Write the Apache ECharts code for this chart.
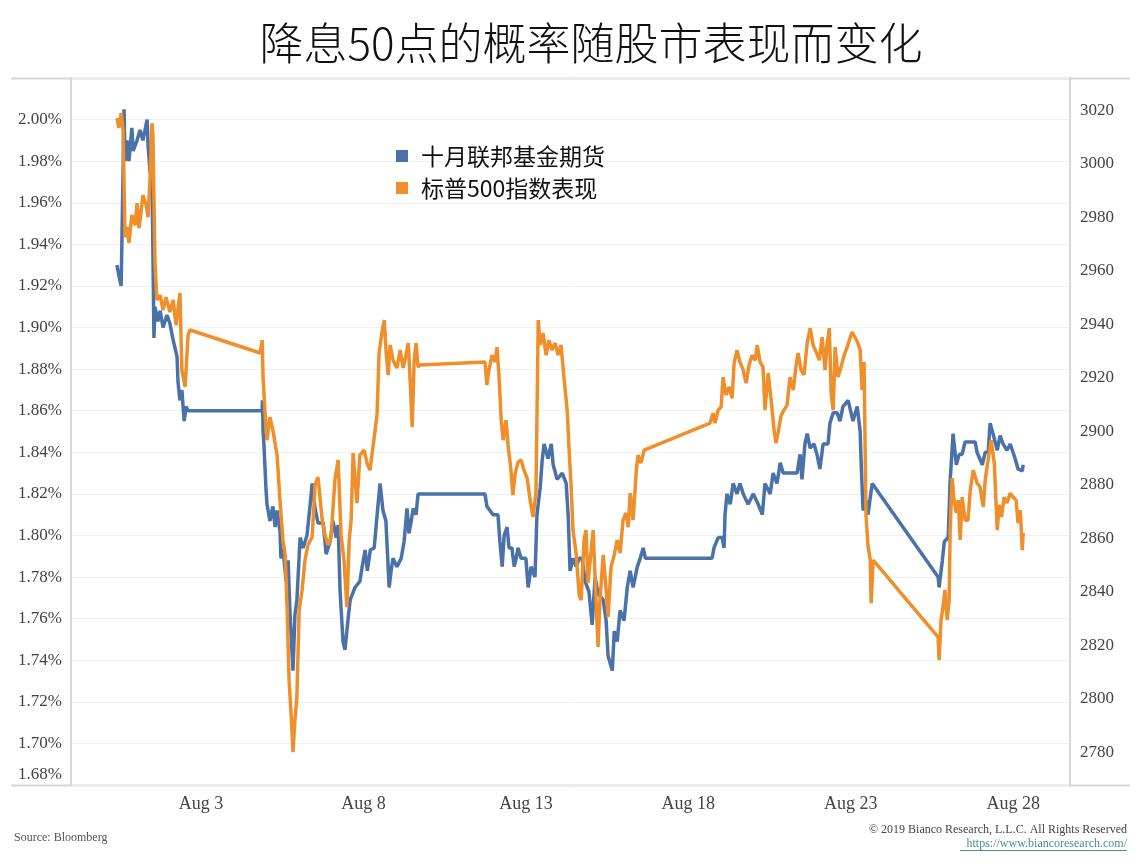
<!DOCTYPE html>
<html>
<head>
<meta charset="utf-8">
<script src="https://cdn.jsdelivr.net/npm/echarts@6/dist/echarts.min.js"></script>
<style>
html,body{margin:0;padding:0;background:#fff;}
#chart{width:1141px;height:864px;}
</style>
</head>
<body>
<div id="chart"></div>
<script>
// ---- DATA (x = day number, Aug n 00:00 = n ; Jul 31 = 0) ----
const titleText = '降息50点的概率随股市表现而变化';
const seriesNames = ['十月联邦基金期货', '标普500指数表现'];
const xTickDays = [3, 8, 13, 18, 23, 28];
const leftTickValues = [1.6848, 1.70, 1.72, 1.74, 1.76, 1.78, 1.80, 1.82, 1.84, 1.86, 1.88, 1.90, 1.92, 1.94, 1.96, 1.98, 2.00];
const rightTickValues = [2780, 2800, 2820, 2840, 2860, 2880, 2900, 2920, 2940, 2960, 2980, 3000, 3020];

// October fed funds futures implied (%)
const fedFunds = [
  [0.41,1.930],[0.47,1.925],[0.54,1.920],[0.57,1.948],[0.63,2.005],[0.66,1.980],[0.72,1.990],[0.78,1.980],
  [0.87,1.996],[0.91,1.985],[1.03,1.990],[1.12,1.995],[1.21,1.990],[1.27,1.990],[1.34,2.000],[1.37,1.987],
  [1.43,1.975],[1.49,1.971],[1.55,1.895],[1.58,1.910],[1.67,1.903],[1.74,1.908],[1.83,1.900],[1.95,1.906],
  [2.04,1.902],[2.14,1.894],[2.26,1.886],[2.29,1.874],[2.35,1.865],[2.41,1.870],[2.48,1.855],[2.54,1.862],
  [2.60,1.860],[4.88,1.860],[4.89,1.865],[4.91,1.850],[4.94,1.842],[5.00,1.822],[5.03,1.815],[5.12,1.807],
  [5.21,1.814],[5.28,1.804],[5.34,1.812],[5.43,1.802],[5.46,1.789],[5.52,1.794],[5.62,1.778],[5.68,1.788],
  [5.74,1.762],[5.83,1.735],[5.89,1.762],[5.95,1.769],[6.05,1.799],[6.14,1.794],[6.26,1.800],[6.36,1.815],
  [6.42,1.825],[6.51,1.813],[6.60,1.806],[6.76,1.806],[6.85,1.791],[6.97,1.797],[7.06,1.807],[7.16,1.799],
  [7.22,1.805],[7.28,1.773],[7.37,1.749],[7.43,1.745],[7.52,1.759],[7.59,1.769],[7.74,1.775],[7.89,1.778],
  [7.96,1.785],[8.05,1.793],[8.12,1.783],[8.21,1.793],[8.33,1.794],[8.42,1.810],[8.51,1.825],[8.60,1.812],
  [8.69,1.807],[8.79,1.775],[8.85,1.783],[8.91,1.789],[9.03,1.785],[9.16,1.789],[9.25,1.797],[9.34,1.813],
  [9.40,1.801],[9.47,1.807],[9.53,1.813],[9.62,1.810],[9.68,1.820],[11.74,1.820],[11.80,1.814],[11.99,1.810],
  [12.14,1.810],[12.20,1.797],[12.27,1.785],[12.33,1.800],[12.42,1.804],[12.48,1.794],[12.57,1.794],[12.64,1.785],
  [12.70,1.789],[12.76,1.794],[12.85,1.789],[13.00,1.789],[13.07,1.775],[13.16,1.785],[13.28,1.780],[13.34,1.810],
  [13.44,1.823],[13.50,1.836],[13.56,1.844],[13.68,1.837],[13.78,1.844],[13.84,1.834],[13.96,1.827],[14.12,1.830],
  [14.24,1.825],[14.30,1.810],[14.36,1.783],[14.45,1.789],[14.55,1.785],[14.64,1.789],[14.73,1.789],[14.82,1.778],
  [14.94,1.773],[15.04,1.757],[15.13,1.780],[15.22,1.772],[15.38,1.769],[15.47,1.759],[15.53,1.742],[15.66,1.735],
  [15.72,1.754],[15.81,1.749],[15.90,1.764],[16.02,1.759],[16.12,1.775],[16.21,1.783],[16.30,1.775],[16.43,1.785],
  [16.52,1.789],[16.61,1.794],[16.68,1.789],[18.73,1.789],[18.79,1.794],[18.92,1.799],[19.04,1.799],[19.10,1.794],
  [19.13,1.810],[19.19,1.820],[19.29,1.815],[19.38,1.825],[19.50,1.820],[19.59,1.825],[19.69,1.820],[19.84,1.815],
  [20.00,1.820],[20.15,1.815],[20.28,1.810],[20.36,1.825],[20.52,1.820],[20.61,1.830],[20.73,1.825],[20.83,1.835],
  [20.92,1.830],[21.13,1.830],[21.35,1.830],[21.44,1.839],[21.50,1.827],[21.59,1.844],[21.66,1.849],[21.75,1.842],
  [21.87,1.844],[21.96,1.839],[22.05,1.832],[22.15,1.844],[22.30,1.844],[22.36,1.854],[22.46,1.859],[22.58,1.859],
  [22.67,1.855],[22.76,1.862],[22.92,1.865],[23.07,1.855],[23.20,1.862],[23.29,1.850],[23.32,1.835],[23.38,1.812],
  [23.47,1.817],[23.53,1.810],[23.66,1.825],[25.69,1.780],[25.72,1.775],[25.82,1.788],[25.88,1.797],[26.00,1.799],
  [26.06,1.826],[26.15,1.849],[26.25,1.834],[26.34,1.839],[26.43,1.839],[26.52,1.845],[26.83,1.845],[26.89,1.840],
  [27.05,1.834],[27.14,1.840],[27.23,1.840],[27.29,1.854],[27.38,1.849],[27.51,1.841],[27.60,1.848],[27.69,1.844],
  [27.81,1.841],[27.91,1.844],[28.06,1.837],[28.15,1.832],[28.28,1.831],[28.31,1.834]
];

// S&P 500 index level
const spx = [
  [0.41,3017.0],[0.47,3013.3],[0.54,3018.9],[0.60,3012.5],[0.66,2972.5],[0.72,2976.3],[0.78,2970.3],[0.87,2980.8],
  [0.97,2977.0],[1.03,2985.2],[1.09,2975.9],[1.15,2981.5],[1.21,2988.2],[1.31,2984.5],[1.37,2980.0],[1.43,2995.0],
  [1.49,3015.1],[1.52,3009.9],[1.58,2963.9],[1.64,2949.0],[1.74,2950.8],[1.83,2945.2],[1.92,2950.1],[2.04,2944.5],
  [2.14,2949.0],[2.23,2939.6],[2.35,2951.6],[2.41,2922.8],[2.51,2916.5],[2.60,2935.9],[2.66,2937.8],[4.82,2929.2],
  [4.88,2934.0],[4.91,2919.8],[4.97,2906.7],[5.03,2896.6],[5.12,2905.2],[5.21,2900.4],[5.34,2891.0],[5.43,2874.2],
  [5.52,2859.3],[5.59,2853.7],[5.65,2833.1],[5.71,2806.9],[5.77,2794.6],[5.83,2780.0],[5.89,2792.0],[5.95,2800.6],
  [6.02,2833.1],[6.11,2840.6],[6.20,2851.8],[6.29,2857.4],[6.42,2860.4],[6.51,2879.8],[6.60,2882.8],[6.73,2866.7],
  [6.82,2861.1],[6.91,2857.4],[7.00,2860.0],[7.12,2881.7],[7.22,2889.2],[7.31,2861.1],[7.40,2851.8],[7.49,2834.2],
  [7.56,2859.3],[7.62,2866.7],[7.68,2891.8],[7.80,2873.1],[7.89,2891.0],[8.02,2892.9],[8.11,2888.0],[8.20,2885.4],
  [8.30,2894.8],[8.36,2900.4],[8.42,2906.7],[8.48,2929.2],[8.58,2937.8],[8.64,2941.5],[8.70,2929.2],[8.76,2920.9],
  [8.82,2932.2],[8.91,2926.5],[9.03,2923.6],[9.13,2930.3],[9.22,2923.6],[9.31,2928.4],[9.38,2932.9],[9.44,2918.0],
  [9.50,2901.5],[9.56,2926.5],[9.62,2932.9],[9.68,2923.9],[9.74,2924.7],[11.74,2925.8],[11.80,2917.2],[11.86,2922.8],
  [11.96,2928.4],[12.05,2925.8],[12.11,2931.4],[12.17,2921.0],[12.24,2904.1],[12.30,2896.6],[12.39,2904.1],[12.45,2894.8],
  [12.54,2885.4],[12.60,2876.1],[12.67,2884.3],[12.76,2888.4],[12.85,2889.2],[12.94,2885.4],[13.04,2882.4],[13.13,2874.2],
  [13.22,2867.9],[13.31,2877.2],[13.38,2941.5],[13.44,2932.2],[13.53,2936.6],[13.62,2928.4],[13.71,2934.0],[13.80,2930.3],
  [13.90,2932.9],[13.99,2928.4],[14.08,2932.2],[14.18,2919.1],[14.27,2907.9],[14.33,2892.9],[14.39,2879.8],[14.45,2863.0],
  [14.55,2853.7],[14.64,2838.7],[14.70,2836.8],[14.79,2859.3],[14.85,2863.0],[14.91,2843.2],[15.01,2855.5],[15.07,2863.0],
  [15.16,2836.8],[15.22,2819.3],[15.28,2836.8],[15.38,2853.7],[15.47,2840.6],[15.53,2830.5],[15.62,2849.2],[15.72,2853.7],
  [15.81,2859.3],[15.90,2854.4],[15.99,2866.7],[16.08,2869.4],[16.15,2864.1],[16.21,2876.8],[16.30,2866.7],[16.40,2885.4],
  [16.45,2891.0],[16.54,2888.0],[16.64,2892.9],[18.67,2903.0],[18.76,2906.7],[18.82,2903.0],[18.92,2907.9],[19.01,2909.0],
  [19.07,2920.2],[19.16,2913.5],[19.26,2916.5],[19.35,2912.3],[19.41,2925.4],[19.50,2930.3],[19.59,2925.8],[19.69,2922.8],
  [19.78,2917.9],[19.87,2924.7],[19.96,2928.4],[20.06,2926.5],[20.12,2932.2],[20.21,2925.8],[20.30,2923.9],[20.36,2907.9],
  [20.46,2921.7],[20.55,2911.6],[20.64,2900.4],[20.70,2895.5],[20.76,2899.3],[20.86,2906.0],[20.95,2907.9],[21.04,2909.7],
  [21.13,2920.2],[21.23,2915.3],[21.32,2924.7],[21.38,2929.2],[21.47,2922.8],[21.56,2921.0],[21.66,2932.9],[21.75,2938.5],
  [21.84,2932.2],[21.94,2929.5],[22.03,2926.5],[22.12,2935.1],[22.21,2922.8],[22.27,2932.2],[22.34,2938.5],[22.40,2913.5],
  [22.46,2907.9],[22.52,2931.4],[22.61,2920.2],[22.70,2923.9],[22.80,2928.4],[22.89,2931.4],[22.98,2934.8],[23.04,2937.0],
  [23.13,2935.1],[23.22,2932.9],[23.29,2930.3],[23.35,2915.3],[23.41,2925.8],[23.44,2896.6],[23.47,2868.6],[23.53,2857.4],
  [23.60,2851.8],[23.63,2835.7],[23.69,2851.8],[25.69,2823.0],[25.72,2814.4],[25.78,2829.4],[25.84,2834.2],[25.90,2840.6],
  [25.97,2829.4],[26.03,2836.8],[26.06,2863.0],[26.12,2882.4],[26.18,2874.2],[26.25,2869.4],[26.31,2874.2],[26.37,2859.3],
  [26.43,2875.3],[26.52,2866.7],[26.61,2866.7],[26.68,2878.0],[26.77,2885.4],[26.89,2880.6],[26.98,2879.1],[27.08,2871.6],
  [27.14,2881.7],[27.23,2889.2],[27.32,2896.6],[27.42,2888.0],[27.51,2863.0],[27.57,2872.4],[27.64,2867.9],[27.72,2875.3],
  [27.81,2873.1],[27.91,2876.8],[28.00,2875.3],[28.09,2874.2],[28.15,2865.6],[28.22,2870.5],[28.28,2855.5],[28.31,2861.9]
];

// ---- CHART ----
const BLUE = '#4a72a8';
const ORANGE = '#ef8f2c';
const serif = '"Liberation Serif", "DejaVu Serif", serif';
const cjk = '"Noto Sans CJK SC", "Noto Sans", sans-serif';

const chart = echarts.init(document.getElementById('chart'), null, {renderer: 'canvas'});
chart.setOption({
  animation: false,
  backgroundColor: '#ffffff',
  grid: {left: 71, right: 71, top: 78, bottom: 79, containLabel: false},
  legend: {
    data: seriesNames,
    orient: 'vertical',
    left: 391,
    top: 139,
    icon: 'rect',
    itemWidth: 12,
    itemHeight: 12,
    itemGap: 8,
    textStyle: {fontFamily: cjk, fontSize: 23, color: '#111', padding: [0, 0, 0, 8], lineHeight: 24}
  },
  xAxis: {
    type: 'value',
    min: -1.004,
    max: 29.75,
    axisLine: {show: false},
    axisTick: {show: false},
    splitLine: {show: false},
    axisLabel: {
      customValues: xTickDays,
      formatter: v => 'Aug ' + Math.round(v),
      fontFamily: serif,
      fontSize: 18,
      color: '#444',
      margin: 10
    }
  },
  yAxis: [
    {
      type: 'value',
      position: 'left',
      min: 1.68,
      max: 2.02,
      interval: 0.02,
      axisLine: {show: true, onZero: false, lineStyle: {color: '#d6d6d6', width: 2}},
      axisTick: {show: false},
      splitLine: {show: true, lineStyle: {color: '#f0f0f0', width: 1}},
      axisLabel: {
        customValues: leftTickValues,
        formatter: v => v.toFixed(2) + '%',
        fontFamily: serif,
        fontSize: 17,
        color: '#444',
        margin: 9
      }
    },
    {
      type: 'value',
      position: 'right',
      min: 2767.7,
      max: 3032,
      axisLine: {show: true, onZero: false, lineStyle: {color: '#d6d6d6', width: 2}},
      axisTick: {show: false},
      splitLine: {show: false},
      axisLabel: {
        customValues: rightTickValues,
        formatter: v => String(v),
        fontFamily: serif,
        fontSize: 17,
        color: '#444',
        margin: 10
      }
    }
  ],
  series: [
    {
      name: seriesNames[0],
      type: 'line',
      yAxisIndex: 0,
      data: fedFunds,
      showSymbol: false,
      symbol: 'none',
      lineStyle: {color: BLUE, width: 3.5},
      itemStyle: {color: BLUE}
    },
    {
      name: seriesNames[1],
      type: 'line',
      yAxisIndex: 1,
      data: spx,
      showSymbol: false,
      symbol: 'none',
      lineStyle: {color: ORANGE, width: 3.5},
      itemStyle: {color: ORANGE}
    }
  ],
  graphic: [
    {type: 'text', style: {text: titleText, x: 591, y: 43, textAlign: 'center', textVerticalAlign: 'middle',
      font: '300 44px ' + cjk, fill: '#111'}},
    {type: 'line', shape: {x1: 11, y1: 78.5, x2: 1130, y2: 78.5}, style: {stroke: '#d6d6d6', lineWidth: 2}},
    {type: 'line', shape: {x1: 11, y1: 785.5, x2: 1130, y2: 785.5}, style: {stroke: '#d6d6d6', lineWidth: 2}},
    {type: 'text', style: {text: 'Source: Bloomberg', x: 14, y: 838, textVerticalAlign: 'middle',
      font: '12px ' + serif, fill: '#555'}},
    {type: 'text', style: {text: '© 2019 Bianco Research, L.L.C. All Rights Reserved', x: 1127, y: 830,
      textAlign: 'right', textVerticalAlign: 'middle', font: '12px ' + serif, fill: '#444'}},
    {type: 'text', style: {text: 'https://www.biancoresearch.com/', x: 1127, y: 844,
      textAlign: 'right', textVerticalAlign: 'middle', font: '12px ' + serif, fill: '#4a8c9c'}},
    {type: 'line', shape: {x1: 960, y1: 850.5, x2: 1127, y2: 850.5}, style: {stroke: '#4a8c9c', lineWidth: 1}}
  ]
});
</script>
</body>
</html>
